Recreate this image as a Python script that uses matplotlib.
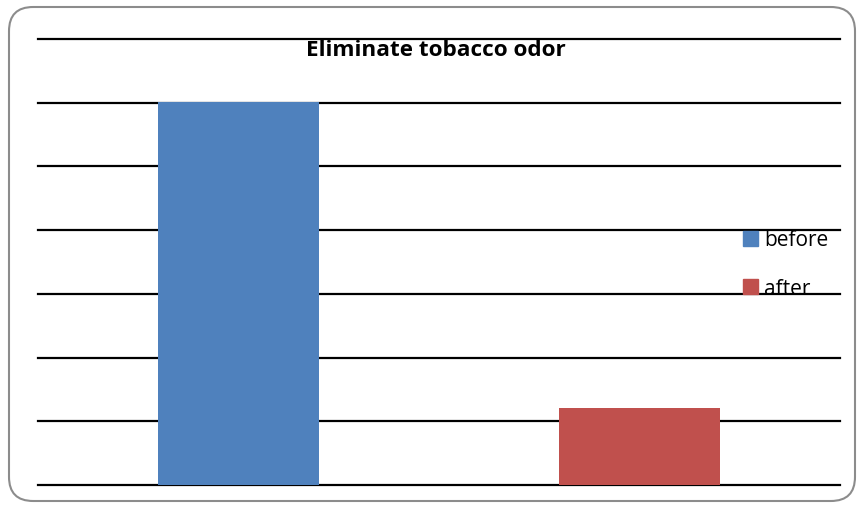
import matplotlib.pyplot as plt
from matplotlib.patches import FancyBboxPatch, Patch

categories = ["before", "after"]
values = [6.01, 1.21]
colors = ["#4f81bd", "#c0504d"]

fig = plt.figure(figsize=(8.62, 5.10), dpi=100)

# rounded chart border
border = FancyBboxPatch((9 / 862, 8 / 510), 846 / 862, 494 / 510,
                        boxstyle="round,pad=0,rounding_size=0.028",
                        transform=fig.transFigure, facecolor="none",
                        edgecolor="#8c8c8c", linewidth=1.5, zorder=0,
                        mutation_aspect=862 / 510)
fig.patches.append(border)

ax = fig.add_axes([38 / 862, 24 / 510, 802 / 862, 446 / 510])
ax.patch.set_alpha(0)
ax.bar([0, 1], values, width=0.4, color=colors, zorder=3)
ax.set_xlim(-0.5, 1.5)
ax.set_ylim(0, 7)
for y in range(8):
    ax.axhline(y, color="black", linewidth=1.6, zorder=2, clip_on=False)
for s in ax.spines.values():
    s.set_visible(False)
ax.set_xticks([])
ax.set_yticks([])

fig.text(436 / 862, 1 - 50 / 510, "Eliminate tobacco odor", ha="center",
         va="center", fontsize=16.2, fontweight="bold", family="Open Sans")

handles = [Patch(color=c) for c in colors]
leg = fig.legend(handles, categories, loc="center left",
                 bbox_to_anchor=(724 / 862, 1 - 265 / 510), frameon=False,
                 prop={"family": "Open Sans", "size": 15},
                 handlelength=0.72, handleheight=0.72, handletextpad=0.3,
                 labelspacing=1.3)

fig.savefig("out.png", dpi=100)
